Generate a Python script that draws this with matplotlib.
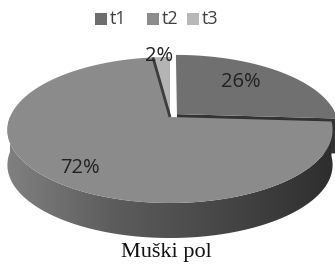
import numpy as np
import matplotlib
matplotlib.use("Agg")
import matplotlib.pyplot as plt
from matplotlib.path import Path
from matplotlib.patches import PathPatch

# ---- data ----
categories = ["t1", "t2", "t3"]
values = [26, 72, 2]
labels = ["26%", "72%", "2%"]
title = "Muški pol"

top_colors = ["#707070", "#8b8b8b", "#b4b4b4"]
legend_colors = ["#6e6e6e", "#8c8c8c", "#b8b8b8"]

W, H = 335, 267
fig = plt.figure(figsize=(W / 100, H / 100), dpi=100)
ax = fig.add_axes([0, 0, 1, 1])
ax.set_xlim(0, W)
ax.set_ylim(H, 0)
ax.axis("off")

# projection of the tilted disc
cx, cy, rx, ry, k, depth = 170, 117, 160, 70.7, 0.178, 35


def proj(x, z, dy=0.0):
    w = 1 + k * z
    return cx + rx * x / w, cy - ry * z / w + dy


def arc(t0, t1, off=(0, 0), dy=0.0, n=160):
    th = np.radians(np.linspace(t0, t1, n))
    return proj(np.cos(th) + off[0], np.sin(th) + off[1], dy)


# slice angles (clockwise from 90 deg)
total = float(sum(values))
starts, ends = [], []
a = 90.0
for v in values:
    starts.append(a)
    a -= 360.0 * v / total
    ends.append(a)

# explosion of t1
bis = np.radians((starts[0] + ends[0]) / 2)
e = 0.06
offs = [(e * np.cos(bis), e * np.sin(bis)), (0, 0), (0, 0)]


def gradient_fill(xs, ys, colors, z):
    verts = np.column_stack([xs, ys])
    path = Path(np.vstack([verts, verts[:1]]), closed=True)
    patch = PathPatch(path, facecolor="none", edgecolor="none")
    ax.add_patch(patch)
    grad = np.linspace(0, 1, 256)[None, :]
    cmap = matplotlib.colors.LinearSegmentedColormap.from_list("g", colors)
    im = ax.imshow(grad, cmap=cmap, extent=[min(xs), max(xs), max(ys), min(ys)],
                   aspect="auto", zorder=z, interpolation="bilinear")
    im.set_clip_path(patch)
    ax.set_xlim(0, W)
    ax.set_ylim(H, 0)


# ---- t1 (exploded) ----
o = offs[0]
ax0, ay0 = proj(o[0], o[1])
rxe, rye = proj(np.cos(np.radians(ends[0])) + o[0], np.sin(np.radians(ends[0])) + o[1])
ax.fill([ax0, rxe, rxe, ax0], [ay0, rye, rye + depth, ay0 + depth], color="#333333", zorder=1, lw=0)
sx, sy = arc(ends[0], 0, o)
bx, by = arc(ends[0], 0, o, depth)
ax.fill(np.r_[sx, bx[::-1]], np.r_[sy, by[::-1]], color="#333333", zorder=1, lw=0)
tx, ty = arc(starts[0], ends[0], o)
ax.fill(np.r_[ax0, tx], np.r_[ay0, ty], color=top_colors[0], zorder=2, lw=0)

# ---- t2 side ----
sx, sy = arc(180, starts[1] + 360)
bx, by = arc(180, starts[1] + 360, dy=depth)
gradient_fill(np.r_[sx, bx[::-1]], np.r_[sy, by[::-1]],
              ["#808080", "#5c5c5c", "#464646", "#2e2e2e"], 3)

# ---- t2 top ----
tx, ty = arc(starts[1], ends[1], offs[1])
x0, y0 = proj(0, 0)
ax.fill(np.r_[x0, tx], np.r_[y0, ty], color=top_colors[1], zorder=4, lw=0)

# ---- t3 top ----
tx, ty = arc(starts[2], ends[2])
ax.fill(np.r_[x0, tx], np.r_[y0, ty], color=top_colors[2], zorder=4, lw=0)

# dark edge between t2 and t3
ex, ey = proj(np.cos(np.radians(ends[1])), np.sin(np.radians(ends[1])))
ax.plot([x0, ex], [y0, ey], color="#3c3c3c", lw=2, zorder=5, solid_capstyle="butt")

# ---- labels ----
lab_pos = [(241, 82), (80, 168), (159, 56)]
for (lx, ly), t in zip(lab_pos, labels):
    ax.text(lx, ly, t, ha="center", va="center", fontsize=14.5,
            family="Open Sans", color="#222222", zorder=6)

# ---- legend ----
leg_x = [95, 147, 187]
for lx, c, name in zip(leg_x, legend_colors, categories):
    ax.add_patch(plt.Rectangle((lx, 13), 12, 12, color=c, zorder=6, lw=0))
    ax.text(lx + 14.5, 19, name, ha="left", va="center", fontsize=13,
            family="Open Sans", color="#404040", zorder=6)

ax.text(166, 253, title, ha="center", va="center", fontsize=16,
        family="Liberation Serif", color="#111111")

fig.savefig("out.png", dpi=100)
